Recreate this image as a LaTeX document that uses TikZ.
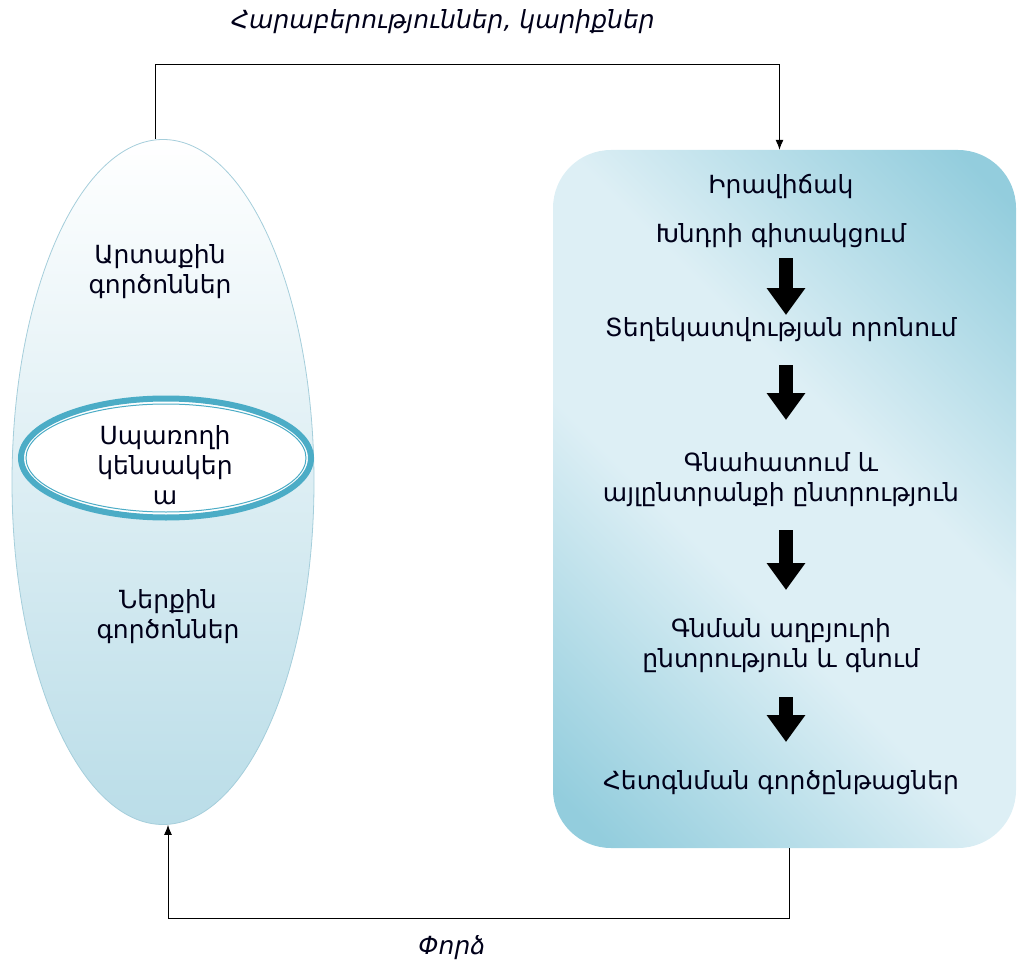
\documentclass[tikz,border=0pt]{standalone}
\usepackage{fontspec}
\setmainfont{DejaVu Sans}
\usetikzlibrary{arrows.meta, shapes.geometric}
\definecolor{accentcol}{HTML}{4BACC6}
\definecolor{darkshade}{HTML}{93CDDD}
\definecolor{lightshade}{HTML}{DDEFF5}
\definecolor{ovalline}{HTML}{A5CEDB}
\definecolor{ovalbottom}{HTML}{BADDE8}
\colorlet{textcol}{black!90!blue}
\pgfdeclarehorizontalshading{boxshade}{100bp}{%
  color(0bp)=(darkshade); color(18bp)=(darkshade); color(42bp)=(lightshade);
  color(58bp)=(lightshade); color(82bp)=(darkshade); color(100bp)=(darkshade)}
\tikzset{
  every node/.style={font=\fontsize{25}{30}\selectfont, text=textcol},
  steptext/.style={align=center, inner sep=0pt},
  link/.style={-{Latex[length=10pt,width=8pt]}, line width=0.9pt},
  blockarrow/.style={-{Triangle[length=27pt,width=37pt]}, line width=14pt},
}

\begin{document}
\begin{tikzpicture}[x=1pt, y=-1pt]

  \useasboundingbox (0,0) rectangle (1018,963);

  % Consumer oval.
  \node[ellipse, draw=ovalline, line width=0.8pt, top color=white, bottom color=ovalbottom,
    minimum width=302pt, minimum height=685pt, inner sep=0pt] (consumer) at (163,482) {};

  % Lifestyle ring.
  \node[ellipse, draw=accentcol, line width=6pt, fill=white,
    minimum width=290pt, minimum height=119pt, inner sep=0pt] (lifestyle) at (166,458) {};
  \draw[accentcol, line width=1pt] (lifestyle.center) ellipse (140pt and 54pt);

  \node[steptext] (outer) at (160,272) {Արտաքին\\գործոններ};
  \node[steptext] (core) at (165,465) {Սպառողի\\կենսակեր\\ա};
  \node[steptext] (inner) at (168,617) {Ներքին\\գործոններ};

  % Decision process box.
  \node[rectangle, rounded corners=58pt, shading=boxshade, shading angle=45,
    minimum width=463pt, minimum height=698pt, inner sep=0pt] (process) at (784.5,499) {};

  \node[steptext] (s1) at (781,187) {Իրավիճակ};
  \node[steptext] (s2) at (781,236) {Խնդրի գիտակցում};
  \node[steptext] (s3) at (781,330) {Տեղեկատվության որոնում};
  \node[steptext] (s4) at (781,480) {Գնահատում և\\այլընտրանքի ընտրություն};
  \node[steptext] (s5) at (781,646) {Գնման աղբյուրի\\ընտրություն և գնում};
  \node[steptext] (s6) at (781,783) {Հետգնման գործընթացներ};

  % Step arrows.
  \draw[blockarrow] ([xshift=5pt, yshift=-22pt]s2.center) -- ([xshift=5pt, yshift=15pt]s3.center);
  \draw[blockarrow] ([xshift=5pt, yshift=-35pt]s3.center) -- ([xshift=5pt, yshift=60pt]s4.center);
  \draw[blockarrow] ([xshift=5pt, yshift=-50pt]s4.center) -- ([xshift=5pt, yshift=56pt]s5.center);
  \draw[blockarrow] ([xshift=5pt, yshift=-51pt]s5.center) -- ([xshift=5pt, yshift=41pt]s6.center);

  % Feedback loop.
  \draw[link] ([xshift=-8pt]consumer.north) -- ++(0,-75) -| ([xshift=-5pt]process.north);
  \draw[link] ([xshift=5pt]process.south) -- ++(0,70) -| ([xshift=5pt]consumer.south);

  \node[font=\itshape\fontsize{25}{28}\selectfont] (needs) at (443,22) {Հարաբերություններ, կարիքներ};
  \node[font=\itshape\fontsize{25}{28}\selectfont] (exp) at (452,948) {Փորձ};

\end{tikzpicture}
\end{document}
